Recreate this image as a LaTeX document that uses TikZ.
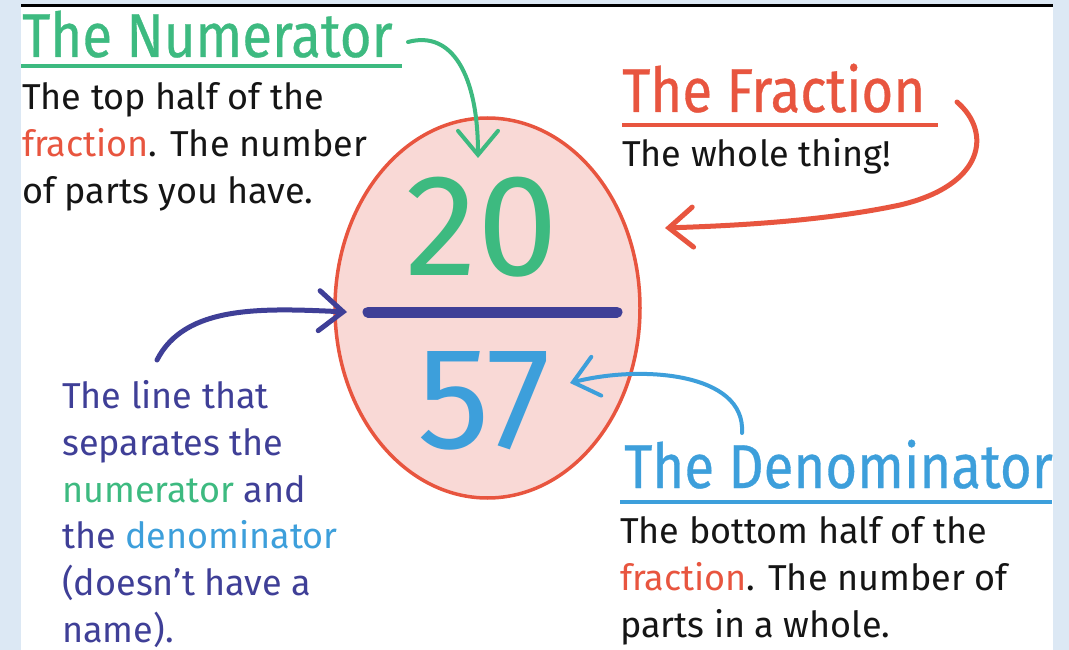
\documentclass[tikz,border=0pt]{standalone}
\usepackage{fontspec}
\setmainfont{Fira Sans}
\newfontfamily\titlefont[FakeStretch=0.88, FakeBold=0.5]{Fira Sans}
\usetikzlibrary{arrows.meta,shapes.geometric}
\definecolor{cgreen}{HTML}{3DBA80}
\definecolor{cred}{HTML}{E8553F}
\definecolor{cblue}{HTML}{3D9FDB}
\definecolor{cindigo}{HTML}{3F3F97}
\definecolor{cpink}{HTML}{F9D9D6}
\definecolor{cbg}{HTML}{DCE8F4}
\definecolor{ctext}{HTML}{151515}
\tikzset{
  titletext/.style={anchor=base west, inner sep=0pt, font=\titlefont\fontsize{62}{62}\selectfont},
  bodytext/.style={anchor=base west, inner sep=0pt, font=\fontsize{36}{36}\selectfont, text=ctext},
  sidetext/.style={anchor=base west, inner sep=0pt, font=\fontsize{36}{36}\selectfont, text=cindigo},
  rule/.style={line width=4pt},
  pointer/.style={line width=4pt, line cap=round, -{Straight Barb[length=24pt,width=40pt,line cap=round]}},
  digits/.style={inner sep=0pt, font=\fontsize{145}{145}\selectfont, anchor=base}
}
\begin{document}
\begin{tikzpicture}[x=1pt,y=-1pt]
\fill[cbg] (0,0) rectangle (1069,650);
\fill[white] (21,6) rectangle (1053,650);
\draw[black, line width=2.5pt] (21,5.5) -- (1053,5.5);
\useasboundingbox (0,0) rectangle (1069,650);

% fraction ellipse
\node[ellipse, draw=cred, fill=cpink, line width=3.5pt, minimum width=305pt, minimum height=380pt, inner sep=0pt] (frac) at (487.5,308) {};
\node[digits, text=cgreen] (num) at (482,275) {20};
\node[digits, text=cblue] (den) at (484,448) {57};
\draw[cindigo, line width=11pt, line cap=round] (368,312) coordinate (barL) -- (617,312) coordinate (barR);

% numerator block
\node[titletext, text=cgreen] (numtitle) at (22,57) {The Numerator};
\draw[cgreen, rule] (21,66) -- (402,66);
\node[bodytext] (n1) at (22,110) {The top half of the};
\node[bodytext] (n2) at (22,157) {\textcolor{cred}{fraction}. The number};
\node[bodytext] (n3) at (22,204) {of parts you have.};

% fraction block
\node[titletext, text=cred] (fractitle) at (622,112) {The Fraction};
\draw[cred, rule] (622,125) -- (938,125);
\node[bodytext] (f1) at (622,167) {The whole thing!};

% denominator block
\node[titletext, text=cblue] (dentitle) at (624,488) {The Denominator};
\draw[cblue, rule] (620,502) -- (1052,502);
\node[bodytext] (d1) at (620,543) {The bottom half of the};
\node[bodytext] (d2) at (620,590) {\textcolor{cred}{fraction}. The number of};
\node[bodytext] (d3) at (620,637) {parts in a whole.};

% side block
\node[sidetext] (s1) at (62,408) {The line that};
\node[sidetext] (s2) at (62,455) {separates the};
\node[sidetext] (s3) at (62,502) {\textcolor{cgreen}{numerator} and};
\node[sidetext] (s4) at (62,548) {the \textcolor{cblue}{denominator}};
\node[sidetext] (s5) at (62,595) {(doesn’t have a};
\node[sidetext] (s6) at (62,642) {name).};

% arrows
\coordinate (gS) at (408,42);
\coordinate (gT) at (478,158);
\draw[cgreen, pointer] (gS) .. controls (452,30) and (478,75) .. (gT);

\coordinate (rS) at (957,102);
\coordinate (rT) at (665,228);
\draw[cred, pointer, line width=5pt] (rS) .. controls (992,132) and (985,185) .. (900,205) .. controls (820,222) and (725,226) .. (rT);

\coordinate (iS) at (157,360);
\coordinate (iT) at (347,312);
\draw[cindigo, pointer, line width=5pt] (iS) .. controls (185,305) and (262,308) .. (iT);

\coordinate (bS) at (742,433);
\coordinate (bT) at (570,383);
\draw[cblue, pointer] (bS) .. controls (746,372) and (640,365) .. (bT);
\end{tikzpicture}
\end{document}
